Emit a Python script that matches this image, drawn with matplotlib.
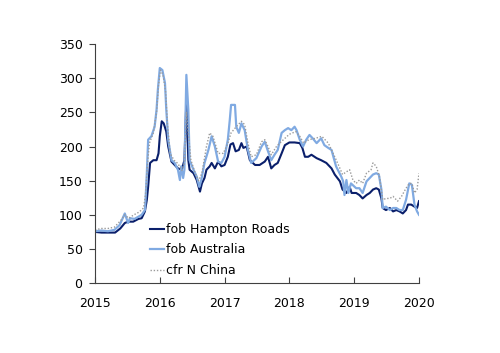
import matplotlib
matplotlib.use("Agg")
import matplotlib.pyplot as plt

# fob Hampton Roads (decimal year, $/t)
hr_x = [2015.00, 2015.10, 2015.20, 2015.31, 2015.39, 2015.46, 2015.51, 2015.59, 2015.67, 2015.72,
        2015.77, 2015.80, 2015.82, 2015.85, 2015.90, 2015.95, 2015.98, 2016.00, 2016.03, 2016.06,
        2016.10, 2016.13, 2016.18, 2016.23, 2016.28, 2016.34, 2016.38, 2016.41, 2016.44, 2016.46,
        2016.52, 2016.57, 2016.62, 2016.65, 2016.69, 2016.72, 2016.77, 2016.80, 2016.85, 2016.90,
        2016.95, 2017.00, 2017.05, 2017.09, 2017.13, 2017.17, 2017.22, 2017.26, 2017.29, 2017.34,
        2017.39, 2017.47, 2017.54, 2017.62, 2017.67, 2017.72, 2017.77, 2017.82, 2017.88, 2017.93,
        2018.00, 2018.08, 2018.16, 2018.20, 2018.24, 2018.29, 2018.34, 2018.42, 2018.49, 2018.57,
        2018.65, 2018.70, 2018.78, 2018.82, 2018.88, 2018.93, 2018.96, 2019.03, 2019.08, 2019.13,
        2019.19, 2019.24, 2019.29, 2019.34, 2019.38, 2019.42, 2019.44, 2019.49, 2019.55, 2019.60,
        2019.65, 2019.70, 2019.75, 2019.80, 2019.83, 2019.88, 2019.93, 2019.97, 2020.00]
hr_y = [75, 74, 74, 74, 80, 88, 90, 90, 94, 95,
        105, 122, 141, 176, 180, 180, 190, 215, 237, 234,
        222, 200, 178, 173, 168, 166, 180, 268, 180, 166,
        161, 151, 134, 146, 154, 166, 171, 176, 168, 178,
        171, 173, 185, 203, 205, 193, 195, 205, 198, 200,
        180, 173, 173, 178, 185, 168, 173, 176, 190, 202,
        206, 206, 205, 198, 185, 185, 188, 183, 180, 176,
        168, 159, 149, 137, 132, 141, 132, 132, 129, 124,
        129, 132, 137, 139, 137, 124, 110, 107, 110, 105,
        107, 105, 102, 107, 115, 115, 112, 110, 120]

# fob Australia
au_x = [2015.00, 2015.10, 2015.20, 2015.30, 2015.38, 2015.46, 2015.51, 2015.54, 2015.61, 2015.72,
        2015.77, 2015.78, 2015.80, 2015.82, 2015.87, 2015.92, 2015.95, 2015.97, 2016.00, 2016.04,
        2016.08, 2016.10, 2016.13, 2016.18, 2016.23, 2016.28, 2016.31, 2016.33, 2016.36, 2016.38,
        2016.41, 2016.44, 2016.46, 2016.52, 2016.57, 2016.61, 2016.64, 2016.69, 2016.75, 2016.80,
        2016.85, 2016.90, 2016.95, 2017.00, 2017.05, 2017.08, 2017.10, 2017.16, 2017.18, 2017.22,
        2017.26, 2017.31, 2017.36, 2017.41, 2017.49, 2017.57, 2017.62, 2017.67, 2017.72, 2017.77,
        2017.82, 2017.88, 2017.93, 2017.98, 2018.03, 2018.08, 2018.11, 2018.16, 2018.21, 2018.26,
        2018.31, 2018.36, 2018.42, 2018.49, 2018.54, 2018.60, 2018.65, 2018.72, 2018.80, 2018.83,
        2018.85, 2018.88, 2018.91, 2018.95, 2019.03, 2019.08, 2019.13, 2019.19, 2019.24, 2019.29,
        2019.34, 2019.38, 2019.42, 2019.44, 2019.49, 2019.55, 2019.60, 2019.65, 2019.70, 2019.75,
        2019.80, 2019.85, 2019.89, 2019.93, 2019.97, 2020.00]
au_y = [76, 77, 76, 78, 85, 102, 88, 95, 94, 100,
        107, 122, 161, 210, 215, 229, 254, 283, 315, 312,
        293, 254, 210, 180, 176, 166, 151, 171, 154, 166,
        305, 254, 180, 166, 156, 141, 151, 176, 195, 215,
        200, 178, 176, 185, 210, 239, 261, 261, 229, 220,
        234, 224, 195, 176, 183, 200, 207, 193, 180, 188,
        195, 220, 224, 227, 224, 229, 224, 210, 200, 210,
        217, 212, 205, 212, 202, 198, 195, 171, 156, 149,
        129, 151, 132, 146, 139, 139, 132, 149, 154, 159,
        161, 159, 137, 110, 112, 107, 110, 110, 107, 107,
        122, 146, 144, 115, 105, 100]

# cfr N China
cn_x = [2015.00, 2015.10, 2015.20, 2015.30, 2015.40, 2015.46, 2015.52, 2015.60, 2015.68, 2015.75,
        2015.78, 2015.81, 2015.84, 2015.90, 2015.95, 2015.98, 2016.01, 2016.05, 2016.09, 2016.12,
        2016.16, 2016.22, 2016.28, 2016.34, 2016.38, 2016.41, 2016.44, 2016.48, 2016.55, 2016.60,
        2016.65, 2016.72, 2016.77, 2016.82, 2016.90, 2016.98, 2017.05, 2017.10, 2017.18, 2017.26,
        2017.31, 2017.36, 2017.41, 2017.49, 2017.57, 2017.62, 2017.67, 2017.72, 2017.80, 2017.85,
        2017.93, 2018.00, 2018.10, 2018.16, 2018.22, 2018.30, 2018.40, 2018.50, 2018.60, 2018.70,
        2018.78, 2018.82, 2018.88, 2018.93, 2018.98, 2019.03, 2019.08, 2019.13, 2019.19, 2019.26,
        2019.29, 2019.34, 2019.39, 2019.44, 2019.49, 2019.55, 2019.60, 2019.67, 2019.73, 2019.80,
        2019.85, 2019.89, 2019.93, 2019.97, 2020.00]
cn_y = [78, 80, 80, 82, 92, 100, 95, 100, 104, 110,
        130, 175, 205, 220, 250, 290, 312, 305, 280, 230,
        190, 180, 175, 165, 175, 250, 220, 180, 160, 150,
        161, 200, 220, 215, 190, 190, 205, 220, 229, 237,
        232, 205, 185, 188, 207, 210, 200, 188, 200, 205,
        212, 218, 222, 215, 205, 210, 212, 215, 205, 185,
        168, 159, 163, 166, 151, 146, 151, 146, 161, 166,
        176, 171, 156, 122, 124, 124, 127, 120, 127, 139,
        146, 146, 132, 137, 161]

years = [2015, 2016, 2017, 2018, 2019, 2020]
yticks = [0, 50, 100, 150, 200, 250, 300, 350]

plt.rcParams['font.family'] = ['DejaVu Sans']
plt.rcParams['font.size'] = 9

fig = plt.figure(figsize=(5.0, 3.53), dpi=100)
ax = fig.add_axes([0.19, 0.198, 0.648, 0.677])

ax.plot(hr_x, hr_y, color='#0a1f6b', lw=1.5, label='fob Hampton Roads')
ax.plot(au_x, au_y, color='#80aae2', lw=1.6, label='fob Australia')
ax.plot(cn_x, cn_y, color='#9a9a9a', lw=1.0, ls=(0, (1, 1.3)), label='cfr N China')

ax.set_xlim(2015, 2020)
ax.set_ylim(0, 350)
ax.set_xticks(years)
ax.set_xticklabels([str(y) for y in years])
ax.set_yticks(yticks)
ax.spines['top'].set_visible(False)
ax.spines['right'].set_visible(False)
ax.spines['left'].set_color('#404040')
ax.spines['bottom'].set_color('#404040')
ax.tick_params(axis='y', direction='out', length=4, color='#404040', pad=5)
ax.tick_params(axis='x', direction='in', length=4, color='#404040', pad=10)

ax.legend(loc='upper left', bbox_to_anchor=(0.17, 0.252), frameon=False,
          handlelength=1.1, handletextpad=0.15, labelspacing=0.6,
          borderaxespad=0, borderpad=0)

fig.savefig('out.png', dpi=100)
